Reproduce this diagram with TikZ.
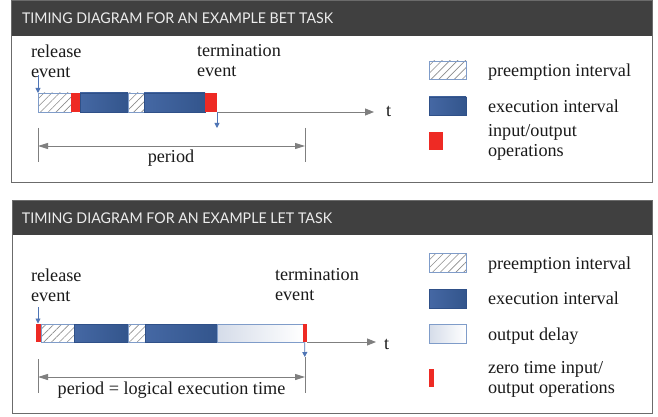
\documentclass[tikz,border=0pt]{standalone}
\usepackage{fontspec}
\usetikzlibrary{arrows.meta,patterns.meta}
\setmainfont{Liberation Serif}
\newfontfamily\hdrfont{Lato}
\newcommand\bodyfnt{\fontsize{18.2pt}{20.4pt}\selectfont}
\definecolor{hdrbg}{HTML}{404040}
\definecolor{hdrtxt}{HTML}{EDEDED}
\definecolor{framegray}{HTML}{6B6B6B}
\definecolor{execA}{HTML}{4568A4}
\definecolor{execB}{HTML}{33558C}
\definecolor{execedge}{HTML}{2F5088}
\definecolor{hatchedge}{HTML}{7F9CC9}
\definecolor{hatchgray}{HTML}{8C8C8C}
\definecolor{ioRed}{HTML}{EE2A24}
\definecolor{delayA}{HTML}{D5DCE9}
\definecolor{evblue}{HTML}{4F75B5}
\definecolor{axisgray}{HTML}{7F7F7F}
\definecolor{txt}{HTML}{1A1A1A}
\tikzset{
  seg/.style={rectangle, inner sep=0pt, outer sep=0pt, anchor=north west},
  hatchseg/.style={seg, draw=hatchedge, line width=0.7pt,
     pattern={Lines[angle=45,distance=5.5pt,line width=0.6pt]}, pattern color=hatchgray},
  execseg/.style={seg, draw=execedge, line width=0.4pt, left color=execA, right color=execB},
  ioseg/.style={seg, fill=ioRed},
  delayseg/.style={seg, draw=hatchedge, line width=0.7pt, left color=delayA, right color=white},
  lbl/.style={inner sep=0pt, outer sep=0pt, anchor=north west, align=left, font=\bodyfnt, text=txt},
  blbl/.style={inner sep=0pt, outer sep=0pt, anchor=base west, font=\bodyfnt, text=txt},
  hdrtext/.style={inner sep=0pt, outer sep=0pt, anchor=south west, text=hdrtxt},
  axisline/.style={draw=axisgray, line width=0.9pt, -{Triangle[length=9pt,width=7pt]}},
  evarrow/.style={draw=evblue, line width=0.9pt, -{Triangle[length=5pt,width=5pt]}},
  dimline/.style={draw=axisgray, line width=1pt, {Triangle[length=10pt,width=6pt]}-{Triangle[length=10pt,width=6pt]}},
  tickline/.style={draw=axisgray, line width=1pt},
}
\begin{document}
\begin{tikzpicture}[x=1pt,y=-1pt]
\useasboundingbox (0,0) rectangle (658,417);
\fill[white] (0,0) rectangle (658,417);
% ---------------- top panel ----------------
\fill[hdrbg] (11,1) rectangle (652,36);
\draw[framegray, line width=1pt] (11,1) rectangle (652,182);
\node[hdrtext] (h1txt) at (22,24) {\resizebox{311pt}{10.7pt}{\hdrfont TIMING DIAGRAM FOR AN EXAMPLE BET TASK}};

\node[lbl] (rel1) at (31,44.5) {release\\event};
\node[lbl] (term1) at (197,44.5) {termination\\event};

\node[hatchseg, minimum width=33pt, minimum height=19pt] (a1) at (38,93) {};
\node[ioseg,    minimum width=9pt,  minimum height=19pt] (a2) at (71,93) {};
\node[execseg,  minimum width=48pt, minimum height=19pt] (a3) at (80,93) {};
\node[hatchseg, minimum width=16pt, minimum height=19pt] (a4) at (128,93) {};
\node[execseg,  minimum width=61pt, minimum height=19pt] (a5) at (144,93) {};
\node[ioseg,    minimum width=12pt, minimum height=19pt] (a6) at (205,93) {};

\coordinate (axend1) at (374,112);
\draw[axisline] (a6.south east) -- (axend1);
\node[blbl] (t1) at (386,117) {t};

\coordinate (relstart1) at (38,75);
\draw[evarrow] (relstart1) -- (a1.north west);
\coordinate (termend1) at (217,128);
\draw[evarrow] (a6.south east) -- (termend1);

\coordinate (tkl1a) at (38,128); \coordinate (tkl1b) at (38,162);
\coordinate (tkr1a) at (305,128); \coordinate (tkr1b) at (305,162);
\draw[tickline] (tkl1a) -- (tkl1b);
\draw[tickline] (tkr1a) -- (tkr1b);
\coordinate (dl1) at (38,146); \coordinate (dr1) at (305,146);
\draw[dimline] (dl1) -- (dr1);
\node[inner sep=0pt, anchor=base, font=\bodyfnt, text=txt] (per1) at (171,162.7) {period};

% legend top
\node[hatchseg, minimum width=37pt, minimum height=18pt] (lg1a) at (429,61) {};
\node[blbl] (lg1at) at (488,77) {preemption interval};
\node[execseg, minimum width=37pt, minimum height=18pt] (lg1b) at (429,97) {};
\node[blbl] (lg1bt) at (488,112.7) {execution interval};
\node[ioseg, minimum width=14pt, minimum height=18pt] (lg1c) at (429,132) {};
\node[lbl] (lg1ct) at (488,124.4) {input/output\\operations};

% ---------------- bottom panel ----------------
\fill[hdrbg] (12,200) rectangle (652,235);
\draw[framegray, line width=1pt] (12,200) rectangle (652,413);
\node[hdrtext] (h2txt) at (22,223.3) {\resizebox{310pt}{10.7pt}{\hdrfont TIMING DIAGRAM FOR AN EXAMPLE LET TASK}};

\node[lbl] (rel2) at (31,268.5) {release\\event};
\node[lbl] (term2) at (275,268.5) {termination\\event};

\node[hatchseg, minimum width=33pt, minimum height=18pt] (b2) at (41,324) {};
\node[execseg,  minimum width=54pt, minimum height=18pt] (b3) at (74,324) {};
\node[hatchseg, minimum width=17pt, minimum height=18pt] (b4) at (128,324) {};
\node[execseg,  minimum width=72pt, minimum height=18pt] (b5) at (145,324) {};
\node[delayseg, minimum width=86pt, minimum height=18pt] (b6) at (217,324) {};
\node[ioseg,    minimum width=5pt,  minimum height=18pt] (b1) at (36,324) {};
\node[ioseg,    minimum width=4.5pt, minimum height=18pt] (b7) at (302.5,324) {};

\coordinate (axend2) at (376,342);
\draw[axisline] (b7.south east) -- (axend2);
\node[blbl] (t2) at (384,349) {t};

\coordinate (relstart2) at (38,307);
\coordinate (relend2) at (38,323.5);
\draw[evarrow] (relstart2) -- (relend2);
\coordinate (termend2) at (304.8,357);
\draw[evarrow] (b7.south) -- (termend2);

\coordinate (tkl2a) at (38,359); \coordinate (tkl2b) at (38,393);
\coordinate (tkr2a) at (305,357); \coordinate (tkr2b) at (305,393);
\draw[tickline] (tkl2a) -- (tkl2b);
\draw[tickline] (tkr2a) -- (tkr2b);
\coordinate (dl2) at (38,377); \coordinate (dr2) at (305,377);
\draw[dimline] (dl2) -- (dr2);
\node[inner sep=0pt, anchor=base, font=\bodyfnt, text=txt] (per2) at (171.5,394.3) {period = logical execution time};

% legend bottom
\node[hatchseg, minimum width=37pt, minimum height=19pt] (lg2a) at (429,253) {};
\node[blbl] (lg2at) at (488,269.3) {preemption interval};
\node[execseg, minimum width=37pt, minimum height=19pt] (lg2b) at (429,289) {};
\node[blbl] (lg2bt) at (488,304) {execution interval};
\node[delayseg, minimum width=37pt, minimum height=19pt] (lg2c) at (429,324) {};
\node[blbl] (lg2ct) at (488,340) {output delay};
\node[ioseg, minimum width=4.5pt, minimum height=18pt] (lg2d) at (429,369) {};
\node[lbl] (lg2dt) at (488,361.4) {zero time input/\\output operations};
\end{tikzpicture}
\end{document}
